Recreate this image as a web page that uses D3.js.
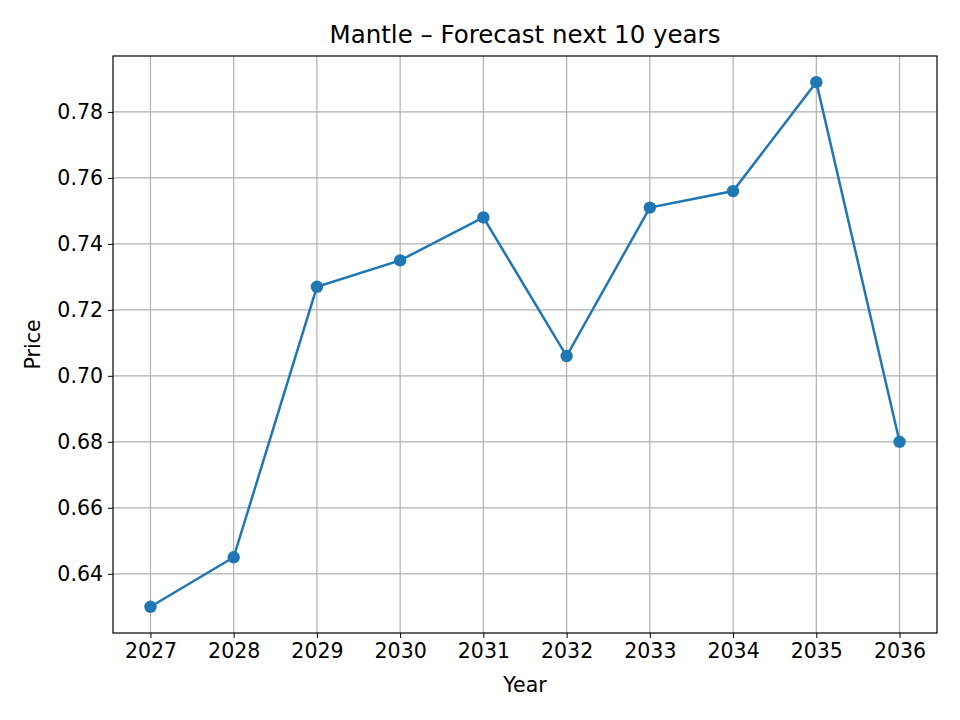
<!DOCTYPE html>
<html><head><meta charset="utf-8">
<script src="https://cdn.jsdelivr.net/npm/d3@7"></script>
<style>body{margin:0;background:#fff}text{font-family:"DejaVu Sans",sans-serif}</style>
</head><body><svg id="c" width="960" height="720"></svg>
<script>
const years=[2027,2028,2029,2030,2031,2032,2033,2034,2035,2036];
const prices=[0.630,0.645,0.727,0.735,0.748,0.706,0.751,0.756,0.789,0.680];
const yTicks=[0.64,0.66,0.68,0.70,0.72,0.74,0.76,0.78];
const svg=d3.select("#c");
const L=113,R=937,T=56,B=633;
const pad=(2036-2027)*0.05;
const x=d3.scaleLinear().domain([2027-pad,2036+pad]).range([L,R]);
const yr=0.789-0.630, yp=yr*0.05;
const y=d3.scaleLinear().domain([0.630-yp,0.789+yp]).range([B,T]);
const g=svg.append("g");
g.selectAll(".vg").data(years).join("line").attr("x1",d=>x(d)).attr("x2",d=>x(d)).attr("y1",T).attr("y2",B).attr("stroke","#b0b0b0").attr("stroke-width",1.2);
g.selectAll(".hg").data(yTicks).join("line").attr("y1",d=>y(d)).attr("y2",d=>y(d)).attr("x1",L).attr("x2",R).attr("stroke","#b0b0b0").attr("stroke-width",1.2);
const xa=svg.append("g").attr("transform",`translate(0,${B})`).call(d3.axisBottom(x).tickValues(years).tickFormat(d3.format("d")).tickSize(5).tickPadding(5));
const ya=svg.append("g").attr("transform",`translate(${L},0)`).call(d3.axisLeft(y).tickValues(yTicks).tickFormat(d3.format(".2f")).tickSize(5).tickPadding(5));
[xa,ya].forEach(a=>{a.select(".domain").remove();a.selectAll("text").attr("font-size",20.5).attr("fill","#000").style("font-family","DejaVu Sans");a.selectAll("line").attr("stroke","#000");});
svg.append("rect").attr("x",L).attr("y",T).attr("width",R-L).attr("height",B-T).attr("fill","none").attr("stroke","#000").attr("stroke-width",1.2);
svg.append("path").datum(years.map((d,i)=>[d,prices[i]])).attr("d",d3.line().x(d=>x(d[0])).y(d=>y(d[1]))).attr("fill","none").attr("stroke","#1f77b4").attr("stroke-width",2.5);
svg.selectAll(".pt").data(years).join("circle").attr("cx",d=>x(d)).attr("cy",(d,i)=>y(prices[i])).attr("r",6.2).attr("fill","#1f77b4");
svg.append("text").attr("x",(L+R)/2).attr("y",43).attr("text-anchor","middle").attr("font-size",24.5).text("Mantle – Forecast next 10 years");
svg.append("text").attr("x",(L+R)/2).attr("y",692).attr("text-anchor","middle").attr("font-size",20.5).text("Year");
svg.append("text").attr("transform",`translate(40,${(T+B)/2}) rotate(-90)`).attr("text-anchor","middle").attr("font-size",20.5).text("Price");
</script></body></html>
